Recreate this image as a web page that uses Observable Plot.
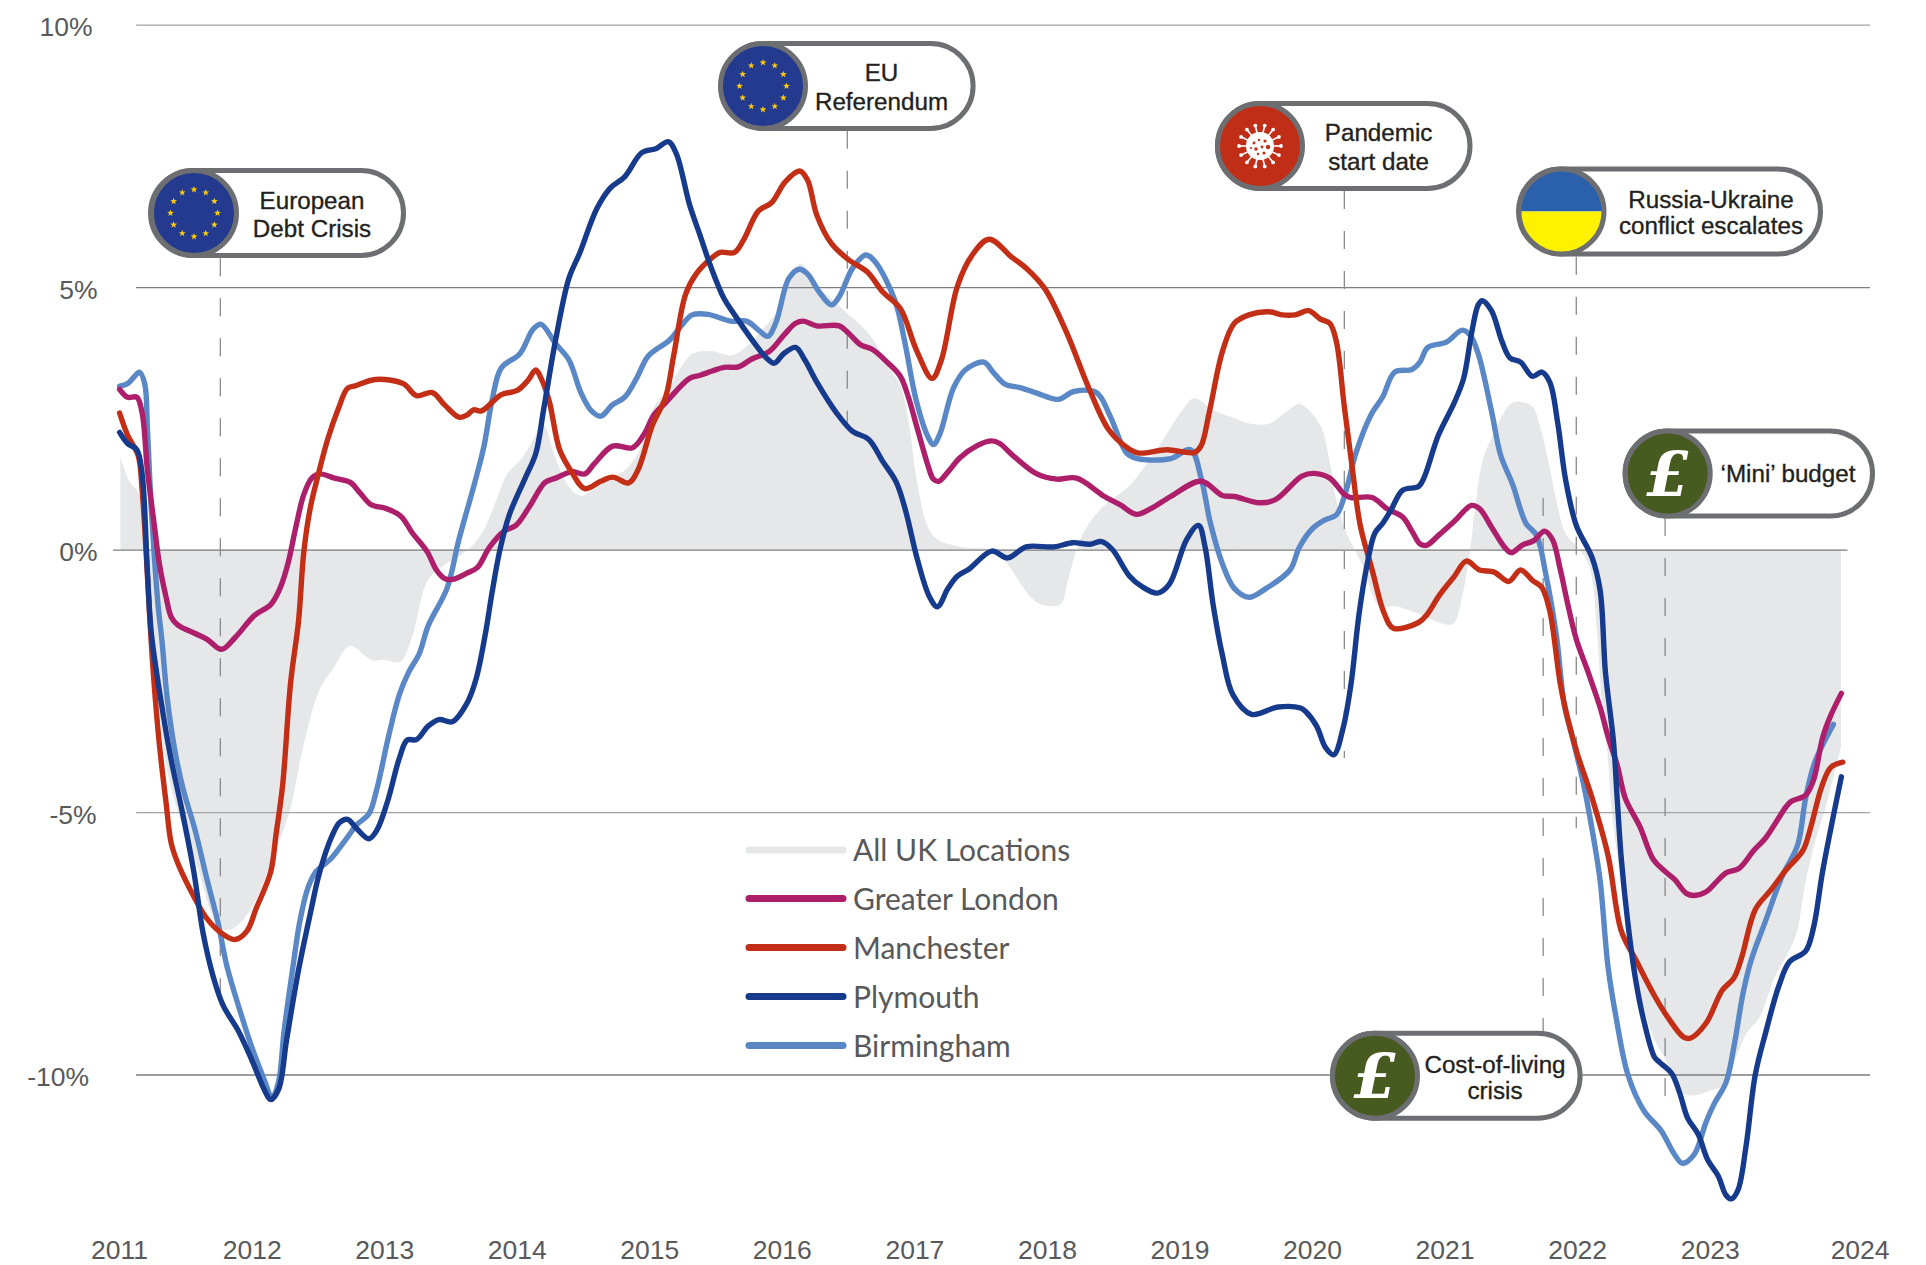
<!DOCTYPE html>
<html><head><meta charset="utf-8">
<script src="https://cdn.jsdelivr.net/npm/d3@7"></script>
<script src="https://cdn.jsdelivr.net/npm/@observablehq/plot@0.6"></script>
<style>html,body{margin:0;padding:0;background:#fff;overflow:hidden}svg{display:block}</style>
</head><body><div id="chart"></div>
<script>
const years=[2011,2012,2013,2014,2015,2016,2017,2018,2019,2020,2021,2022,2023,2024];
const yTicks=[10,5,0,-5,-10];
const allUK=[[2011.01,1.76],[2011.08,1.29],[2011.15,1.06],[2011.2,-0.1],[2011.25,-1.5],[2011.3,-3],[2011.37,-4.3],[2011.47,-5.2],[2011.59,-6.05],[2011.75,-7.18],[2011.84,-7.24],[2011.99,-6.87],[2012.17,-5.81],[2012.29,-4.95],[2012.38,-3.86],[2012.51,-2.68],[2012.62,-2.25],[2012.74,-1.84],[2012.91,-2.11],[2013,-2.1],[2013.12,-2.14],[2013.21,-1.67],[2013.33,-0.58],[2013.45,-0.3],[2013.62,-0.03],[2013.74,0.32],[2013.84,0.9],[2013.93,1.45],[2014.02,1.68],[2014.12,2.07],[2014.2,2.38],[2014.29,1.76],[2014.39,1.21],[2014.49,1.02],[2014.64,1.29],[2014.82,1.52],[2014.93,1.91],[2015.03,2.69],[2015.15,3.08],[2015.26,3.55],[2015.33,3.74],[2015.47,3.78],[2015.62,3.7],[2015.73,3.86],[2015.83,4.13],[2015.95,4.48],[2016.05,5.02],[2016.14,5.45],[2016.25,5.06],[2016.37,4.79],[2016.5,4.48],[2016.65,4.13],[2016.79,3.55],[2016.9,3.08],[2016.96,2.38],[2017.02,1.29],[2017.1,0.44],[2017.17,0.2],[2017.35,0.05],[2017.62,-0.03],[2017.71,-0.3],[2017.86,-0.85],[2017.95,-1.04],[2018.1,-1.04],[2018.16,-0.58],[2018.23,0.05],[2018.32,0.51],[2018.46,0.9],[2018.62,1.21],[2018.81,1.84],[2019.01,2.61],[2019.11,2.88],[2019.26,2.65],[2019.4,2.52],[2019.53,2.4],[2019.68,2.4],[2019.8,2.61],[2019.91,2.77],[2020.06,2.38],[2020.13,1.72],[2020.19,0.86],[2020.26,0.32],[2020.32,0.01],[2020.38,-0.3],[2020.51,-1.08],[2020.63,-1.08],[2020.8,-1.22],[2020.92,-1.35],[2021.01,-1.43],[2021.07,-1.41],[2021.13,-0.93],[2021.19,-0.07],[2021.23,0.79],[2021.29,1.72],[2021.38,2.26],[2021.47,2.69],[2021.53,2.81],[2021.66,2.73],[2021.72,2.34],[2021.78,1.72],[2021.85,0.86],[2021.91,0.32],[2022,0.05],[2022.09,-0.3],[2022.15,-1.55],[2022.18,-2.71],[2022.23,-3.9],[2022.26,-4.93],[2022.32,-6.16],[2022.41,-7.67],[2022.5,-8.7],[2022.58,-9.32],[2022.67,-9.73],[2022.77,-10.31],[2022.88,-10.4],[2023,-10.31],[2023.1,-10.21],[2023.19,-9.73],[2023.28,-9.21],[2023.37,-8.94],[2023.49,-8.15],[2023.6,-7.64],[2023.66,-7.26],[2023.72,-6.37],[2023.79,-5.62],[2023.88,-4.86],[2023.99,-3.77]];
const london=[[2011,3.06],[2011.06,2.91],[2011.13,2.91],[2011.17,2.61],[2011.21,1.52],[2011.26,0.51],[2011.3,-0.26],[2011.35,-0.89],[2011.39,-1.28],[2011.44,-1.43],[2011.57,-1.59],[2011.66,-1.7],[2011.77,-1.89],[2011.87,-1.67],[2012.02,-1.24],[2012.14,-1.04],[2012.21,-0.73],[2012.27,-0.26],[2012.33,0.44],[2012.39,1.06],[2012.45,1.37],[2012.51,1.45],[2012.62,1.37],[2012.74,1.29],[2012.81,1.1],[2012.9,0.86],[2013,0.8],[2013.12,0.65],[2013.21,0.32],[2013.32,-0.03],[2013.39,-0.38],[2013.45,-0.54],[2013.51,-0.56],[2013.62,-0.44],[2013.7,-0.33],[2013.79,0.05],[2013.9,0.36],[2013.99,0.47],[2014.09,0.82],[2014.21,1.29],[2014.29,1.37],[2014.41,1.49],[2014.51,1.45],[2014.58,1.64],[2014.72,1.98],[2014.87,1.95],[2014.96,2.22],[2015.03,2.57],[2015.12,2.81],[2015.3,3.27],[2015.38,3.33],[2015.47,3.41],[2015.56,3.48],[2015.67,3.49],[2015.77,3.64],[2015.9,3.78],[2016.01,4.09],[2016.1,4.32],[2016.16,4.36],[2016.26,4.27],[2016.43,4.27],[2016.5,4.13],[2016.59,3.91],[2016.68,3.82],[2016.79,3.58],[2016.89,3.31],[2016.95,2.92],[2017.02,2.3],[2017.1,1.6],[2017.14,1.35],[2017.18,1.31],[2017.25,1.49],[2017.34,1.76],[2017.47,1.99],[2017.58,2.08],[2017.64,2.03],[2017.74,1.8],[2017.92,1.45],[2018.07,1.35],[2018.22,1.37],[2018.43,1.02],[2018.55,0.86],[2018.67,0.68],[2018.78,0.79],[2018.93,1.02],[2019.16,1.31],[2019.32,1.04],[2019.41,1.02],[2019.6,0.9],[2019.72,0.96],[2019.92,1.41],[2020.01,1.46],[2020.13,1.37],[2020.24,1.06],[2020.29,1],[2020.45,1],[2020.56,0.79],[2020.68,0.63],[2020.75,0.36],[2020.81,0.12],[2020.86,0.09],[2020.95,0.28],[2021.07,0.55],[2021.2,0.85],[2021.26,0.79],[2021.35,0.44],[2021.45,0.05],[2021.5,-0.05],[2021.58,0.09],[2021.67,0.18],[2021.75,0.36],[2021.81,0.2],[2021.87,-0.38],[2021.93,-1.08],[2021.99,-1.7],[2022.08,-2.33],[2022.17,-3.0],[2022.23,-3.56],[2022.3,-4.11],[2022.36,-4.73],[2022.47,-5.27],[2022.57,-5.89],[2022.65,-6.1],[2022.73,-6.27],[2022.82,-6.54],[2022.88,-6.58],[2022.97,-6.51],[2023.04,-6.34],[2023.12,-6.15],[2023.22,-6.06],[2023.33,-5.72],[2023.42,-5.48],[2023.57,-4.9],[2023.61,-4.79],[2023.72,-4.67],[2023.78,-4.38],[2023.85,-3.56],[2023.91,-3.15],[2023.99,-2.73]];
const manchester=[[2011,2.61],[2011.06,2.19],[2011.14,1.8],[2011.17,1.14],[2011.2,-0.03],[2011.23,-1.4],[2011.26,-2.53],[2011.3,-3.7],[2011.35,-4.8],[2011.39,-5.59],[2011.44,-5.97],[2011.56,-6.6],[2011.65,-6.99],[2011.75,-7.26],[2011.87,-7.42],[2011.96,-7.26],[2012.03,-6.83],[2012.14,-6.13],[2012.18,-5.42],[2012.23,-4.48],[2012.29,-2.53],[2012.35,-1.35],[2012.39,-0.03],[2012.44,0.82],[2012.5,1.45],[2012.57,2.11],[2012.65,2.69],[2012.72,3.08],[2012.78,3.13],[2012.93,3.25],[2013.14,3.17],[2013.24,2.94],[2013.36,3],[2013.45,2.77],[2013.56,2.53],[2013.62,2.57],[2013.67,2.67],[2013.73,2.65],[2013.88,2.96],[2014,3.04],[2014.08,3.23],[2014.14,3.43],[2014.18,3.27],[2014.24,2.85],[2014.32,1.91],[2014.41,1.49],[2014.51,1.17],[2014.63,1.31],[2014.72,1.39],[2014.84,1.28],[2014.91,1.52],[2015.02,2.38],[2015.12,2.92],[2015.18,3.7],[2015.27,4.87],[2015.35,5.26],[2015.47,5.57],[2015.53,5.67],[2015.64,5.67],[2015.71,5.92],[2015.82,6.46],[2015.92,6.62],[2016.02,7.01],[2016.13,7.22],[2016.19,7.05],[2016.26,6.38],[2016.37,5.84],[2016.5,5.53],[2016.64,5.3],[2016.76,4.91],[2016.89,4.6],[2017.01,3.82],[2017.13,3.27],[2017.2,3.62],[2017.32,5.02],[2017.43,5.61],[2017.56,5.92],[2017.73,5.58],[2017.84,5.37],[2017.98,4.98],[2018.14,4.17],[2018.32,3.04],[2018.46,2.3],[2018.58,1.99],[2018.68,1.85],[2018.9,1.91],[2019.11,1.86],[2019.16,1.99],[2019.22,2.61],[2019.32,3.78],[2019.41,4.32],[2019.52,4.48],[2019.67,4.54],[2019.77,4.48],[2019.87,4.48],[2019.97,4.56],[2020.06,4.4],[2020.13,4.32],[2020.18,3.97],[2020.24,2.73],[2020.3,1.56],[2020.36,0.47],[2020.45,-0.38],[2020.54,-1.2],[2020.61,-1.49],[2020.8,-1.38],[2020.86,-1.24],[2020.96,-0.85],[2021.07,-0.5],[2021.16,-0.21],[2021.26,-0.38],[2021.37,-0.42],[2021.48,-0.6],[2021.57,-0.38],[2021.66,-0.58],[2021.73,-0.71],[2021.79,-1.16],[2021.87,-2.56],[2021.93,-3.26],[2022,-3.9],[2022.11,-4.73],[2022.23,-5.82],[2022.33,-7.26],[2022.44,-7.81],[2022.58,-8.49],[2022.68,-8.9],[2022.8,-9.28],[2022.85,-9.3],[2022.97,-9.01],[2023.09,-8.39],[2023.18,-8.15],[2023.24,-7.74],[2023.34,-6.85],[2023.46,-6.47],[2023.57,-6.1],[2023.7,-5.72],[2023.76,-5.27],[2023.84,-4.52],[2023.91,-4.14],[2024,-4.04]];
const plymouth=[[2011,2.24],[2011.06,2.03],[2011.13,1.91],[2011.17,1.45],[2011.21,-0.42],[2011.24,-1.6],[2011.33,-3.15],[2011.39,-4.01],[2011.47,-4.95],[2011.56,-6.13],[2011.63,-7.3],[2011.71,-8.16],[2011.78,-8.67],[2011.9,-9.18],[2012,-9.73],[2012.09,-10.27],[2012.14,-10.47],[2012.2,-10.27],[2012.26,-9.33],[2012.35,-8],[2012.44,-6.91],[2012.51,-6.13],[2012.6,-5.46],[2012.66,-5.19],[2012.72,-5.13],[2012.79,-5.31],[2012.88,-5.5],[2012.94,-5.34],[2013.02,-4.8],[2013.11,-3.97],[2013.17,-3.62],[2013.24,-3.61],[2013.33,-3.35],[2013.41,-3.23],[2013.51,-3.27],[2013.62,-2.92],[2013.69,-2.45],[2013.76,-1.59],[2013.81,-0.81],[2013.87,0.01],[2013.94,0.67],[2014.06,1.37],[2014.14,1.84],[2014.2,2.69],[2014.29,4.01],[2014.39,5.18],[2014.47,5.65],[2014.6,6.5],[2014.7,6.89],[2014.81,7.11],[2014.94,7.57],[2015.05,7.65],[2015.14,7.78],[2015.2,7.55],[2015.3,6.58],[2015.38,5.99],[2015.46,5.4],[2015.56,4.79],[2015.64,4.48],[2015.77,4.01],[2015.88,3.66],[2015.94,3.56],[2016.01,3.74],[2016.1,3.86],[2016.17,3.62],[2016.26,3.2],[2016.41,2.61],[2016.53,2.26],[2016.65,2.11],[2016.76,1.68],[2016.86,1.29],[2016.93,0.75],[2017.02,-0.19],[2017.11,-0.89],[2017.17,-1.08],[2017.25,-0.73],[2017.32,-0.5],[2017.41,-0.36],[2017.58,-0.02],[2017.7,-0.15],[2017.84,0.06],[2018.05,0.06],[2018.19,0.14],[2018.32,0.11],[2018.41,0.16],[2018.49,0.01],[2018.62,-0.5],[2018.71,-0.69],[2018.83,-0.82],[2018.92,-0.65],[2019.05,0.2],[2019.14,0.47],[2019.19,0.05],[2019.25,-1.04],[2019.32,-2],[2019.4,-2.76],[2019.54,-3.13],[2019.74,-2.99],[2019.91,-3.01],[2019.95,-3.08],[2020.03,-3.35],[2020.1,-3.77],[2020.16,-3.9],[2020.23,-3.4],[2020.29,-2.56],[2020.35,-1.24],[2020.41,-0.3],[2020.47,0.32],[2020.53,0.51],[2020.59,0.75],[2020.68,1.14],[2020.8,1.21],[2020.84,1.37],[2020.95,2.19],[2021.07,2.81],[2021.14,3.27],[2021.2,4.13],[2021.25,4.67],[2021.28,4.75],[2021.35,4.56],[2021.43,3.97],[2021.49,3.66],[2021.57,3.58],[2021.66,3.31],[2021.73,3.39],[2021.79,3.2],[2021.85,2.42],[2021.91,1.33],[2021.99,0.47],[2022.11,-0.15],[2022.17,-0.77],[2022.21,-2.33],[2022.27,-3.63],[2022.3,-4.79],[2022.33,-5.89],[2022.38,-7.12],[2022.44,-8.22],[2022.5,-8.97],[2022.58,-9.66],[2022.62,-9.76],[2022.71,-9.97],[2022.77,-10.34],[2022.83,-10.82],[2022.91,-11.13],[2022.98,-11.61],[2023.06,-11.92],[2023.12,-12.29],[2023.16,-12.36],[2023.21,-12.19],[2023.27,-11.37],[2023.34,-10],[2023.42,-9.18],[2023.52,-8.29],[2023.6,-7.84],[2023.72,-7.64],[2023.78,-7.19],[2023.85,-6.1],[2023.99,-4.32]];
const birmingham=[[2011,3.12],[2011.06,3.17],[2011.11,3.3],[2011.15,3.39],[2011.19,3.16],[2011.21,2.3],[2011.24,0.75],[2011.29,-1.04],[2011.32,-1.74],[2011.36,-2.84],[2011.42,-3.86],[2011.48,-4.56],[2011.57,-5.34],[2011.66,-6.28],[2011.74,-7.07],[2011.81,-7.93],[2011.91,-8.79],[2012,-9.49],[2012.09,-10.08],[2012.15,-10.43],[2012.2,-10.12],[2012.24,-9.18],[2012.3,-8.08],[2012.36,-7.07],[2012.42,-6.44],[2012.48,-6.13],[2012.59,-5.89],[2012.71,-5.5],[2012.79,-5.23],[2012.88,-5.03],[2012.94,-4.56],[2013.03,-3.54],[2013.11,-2.76],[2013.18,-2.33],[2013.26,-1.98],[2013.33,-1.43],[2013.47,-0.73],[2013.56,0.2],[2013.68,1.29],[2013.75,1.99],[2013.81,2.85],[2013.88,3.47],[2014.02,3.74],[2014.12,4.21],[2014.18,4.3],[2014.29,3.93],[2014.39,3.62],[2014.48,3],[2014.56,2.65],[2014.63,2.55],[2014.72,2.77],[2014.81,2.91],[2014.9,3.27],[2014.99,3.7],[2015.15,4],[2015.24,4.28],[2015.32,4.48],[2015.44,4.49],[2015.61,4.36],[2015.73,4.36],[2015.83,4.17],[2015.89,4.07],[2015.95,4.32],[2016.05,5.18],[2016.13,5.35],[2016.19,5.26],[2016.28,4.91],[2016.37,4.67],[2016.43,4.83],[2016.53,5.37],[2016.63,5.62],[2016.7,5.49],[2016.85,4.75],[2016.92,4.01],[2017.01,2.85],[2017.1,2.15],[2017.14,2.01],[2017.19,2.22],[2017.29,3.08],[2017.38,3.43],[2017.52,3.58],[2017.59,3.39],[2017.68,3.16],[2017.8,3.09],[2017.92,2.99],[2018.08,2.87],[2018.2,3.02],[2018.37,3],[2018.47,2.57],[2018.6,1.84],[2018.68,1.74],[2018.93,1.74],[2019.08,1.91],[2019.16,1.37],[2019.23,0.51],[2019.32,-0.26],[2019.41,-0.73],[2019.52,-0.9],[2019.65,-0.73],[2019.83,-0.38],[2019.9,0.05],[2020,0.41],[2020.09,0.57],[2020.18,0.67],[2020.24,1.02],[2020.33,1.87],[2020.44,2.57],[2020.53,2.92],[2020.62,3.39],[2020.75,3.44],[2020.81,3.58],[2020.87,3.86],[2021.01,3.96],[2021.13,4.19],[2021.19,4.09],[2021.25,3.74],[2021.35,2.65],[2021.42,1.8],[2021.51,1.25],[2021.61,0.51],[2021.69,0.28],[2021.76,-0.46],[2021.84,-1.63],[2021.9,-2.95],[2021.96,-3.56],[2022.05,-4.52],[2022.12,-5.48],[2022.17,-6.3],[2022.23,-7.95],[2022.29,-8.9],[2022.38,-10],[2022.5,-10.68],[2022.63,-11.06],[2022.73,-11.51],[2022.79,-11.68],[2022.88,-11.51],[2022.97,-10.89],[2023.03,-10.55],[2023.12,-10.14],[2023.18,-9.45],[2023.25,-8.42],[2023.31,-7.81],[2023.42,-7.05],[2023.54,-6.23],[2023.66,-5.62],[2023.72,-4.73],[2023.79,-4.04],[2023.93,-3.32]];

const colors={uk:"#e6e7e8",london:"#ad1f6b",manchester:"#c32e17",plymouth:"#173b8c",birmingham:"#5a88c6"};
const legendNames=["All UK Locations","Greater London","Manchester","Plymouth","Birmingham"];
const legendColors=[colors.uk,colors.london,colors.manchester,colors.plymouth,colors.birmingham];
const eventDates=[{t:2011.76,top:5.55,bottom:-8.47},{t:2016.49,top:7.98,bottom:2.22},{t:2020.24,top:6.83,bottom:-3.97},{t:2021.99,top:5.58,bottom:-5.31},{t:2022.66,top:0.6,bottom:-10.58},{t:2021.74,top:0.98,bottom:-9.5}];
const pills=[
 {l:148,r:406,t:168,icon:"eu",cx:194,tx:312,lines:["European","Debt Crisis"],ty:[200,228.6]},
 {l:718.6,r:975.6,t:41,icon:"eu",cx:763,tx:881.5,lines:["EU","Referendum"],ty:[72.6,101]},
 {l:1215,r:1472.5,t:101,icon:"virus",cx:1260,tx:1378.6,lines:["Pandemic","start date"],ty:[132.7,161]},
 {l:1516,r:1823,t:166.5,icon:"ua",cx:1561.5,tx:1711,lines:["Russia-Ukraine","conflict escalates"],ty:[199,225.7]},
 {l:1622.6,r:1875,t:428.6,icon:"pound",cx:1667.7,tx:1788,lines:["‘Mini’ budget"],ty:[473.5]},
 {l:1330,r:1582.6,t:1030.8,icon:"pound",cx:1375,tx:1495,lines:["Cost-of-living","crisis"],ty:[1064,1090]}
];
const NS="http://www.w3.org/2000/svg";
function el(p,n,a,t){const e=document.createElementNS(NS,n);for(const k in a)e.setAttribute(k,a[k]);if(t!=null)e.textContent=t;p.appendChild(e);return e;}
function star(cx,cy,r){let s="";for(let i=0;i<10;i++){const R=i%2?r*0.4:r,a=-Math.PI/2+i*Math.PI/5;s+=(i?"L":"M")+(cx+R*Math.cos(a)).toFixed(2)+" "+(cy+R*Math.sin(a)).toFixed(2);}return s+"Z";}
function pillMark(){
 const g=document.createElementNS(NS,"g");
 pills.forEach((p,i)=>{
  const h=90,cy=p.t+h/2;
  el(g,"rect",{x:p.l+2.5,y:p.t+2.5,width:p.r-p.l-5,height:h-5,rx:42.5,fill:"#fff",stroke:"#6d6e71","stroke-width":5});
  const base={eu:"#233a8f",virus:"#c12e17",ua:"#2a60ac",pound:"#475a20"}[p.icon];
  if(p.icon==="ua"){
   const cid="ua"+i,cp=el(g,"clipPath",{id:cid});el(cp,"circle",{cx:p.cx,cy,r:42.5});
   const gg=el(g,"g",{"clip-path":`url(#${cid})`});
   el(gg,"rect",{x:p.cx-45,y:cy-45,width:90,height:45,fill:"#2a60ac"});
   el(gg,"rect",{x:p.cx-45,y:cy,width:90,height:45,fill:"#fff200"});
   el(g,"circle",{cx:p.cx,cy,r:42.5,fill:"none",stroke:"#6d6e71","stroke-width":5});
  } else el(g,"circle",{cx:p.cx,cy,r:42.5,fill:base,stroke:"#6d6e71","stroke-width":5});
  if(p.icon==="eu"){for(let k=0;k<12;k++){const a=k*Math.PI/6;el(g,"path",{d:star(p.cx+23.5*Math.cos(a),cy+23.5*Math.sin(a),3.6),fill:"#ffcc00"});}}
  if(p.icon==="virus"){
   for(let k=0;k<14;k++){const a=k*2*Math.PI/14,c=Math.cos(a),s=Math.sin(a);
    el(g,"line",{x1:p.cx+10*c,y1:cy+10*s,x2:p.cx+20*c,y2:cy+20*s,stroke:"#fff","stroke-width":1.6});
    el(g,"circle",{cx:p.cx+21*c,cy:cy+21*s,r:1.9,fill:"#fff"});}
   el(g,"circle",{cx:p.cx,cy,r:14,fill:"#fff"});
   [[-6,-3,1.4],[-1,-6,1.2],[5,-5,1.6],[8,1,2.2],[2,1,1.4],[-4,3,1.8],[-9,2,1.1],[4,7,1.6],[-2,8,1.2]].forEach(d=>el(g,"circle",{cx:p.cx+d[0],cy:cy+d[1],r:d[2],fill:base}));
  }
  if(p.icon==="pound"){el(g,"text",{x:p.cx,y:cy+1,"text-anchor":"middle","dominant-baseline":"central","font-family":"'DejaVu Serif','Liberation Serif',serif","font-weight":"bold","font-style":"italic","font-size":62,fill:"#fff"},"£");}
  p.lines.forEach((t,j)=>el(g,"text",{x:p.tx,y:p.ty[j],"text-anchor":"middle","dominant-baseline":"central","font-family":"'Liberation Sans',Arial,sans-serif","font-size":24.2,fill:"#231f20",stroke:"#231f20","stroke-width":0.35},t));
 });
 return g;
}
function legendMark(){
 const g=document.createElementNS(NS,"g");
 const ys=[850,898.5,947.5,996.5,1045.5];
 legendNames.forEach((n,i)=>{
  el(g,"line",{x1:749,x2:843,y1:ys[i],y2:ys[i],stroke:legendColors[i],"stroke-width":7,"stroke-linecap":"round"});
  el(g,"text",{x:853,y:ys[i]-1,"text-anchor":"start","dominant-baseline":"central","font-family":"Lato,'Open Sans',sans-serif","font-size":30,fill:"#58595b"},n);
 });
 return g;
}
const X=d=>d[0],Y=d=>d[1];
const lineOpts=(c)=>({x:X,y:Y,stroke:c,strokeWidth:5.4,curve:"catmull-rom",strokeLinecap:"round",strokeLinejoin:"round"});
const tickText={fontFamily:"'Liberation Sans',Arial,sans-serif",fontSize:26.5,fill:"#58595b"};
const yLabelDx=[-27,-22,-22,-23,-30.5];
const chart=Plot.plot({
 width:1926,height:1265,margin:0,
 style:{background:"#fff",maxWidth:"none"},
 x:{domain:[2011,2024],range:[119.1,1842.2],axis:null},
 y:{domain:[10,-10],range:[24.6,1074.5],axis:null},
 marks:[
  Plot.areaY(allUK,{x:X,y:Y,y1:0,y2:Y,fill:colors.uk,curve:"catmull-rom"}),
  Plot.ruleY(yTicks.filter(d=>d!==0),{x1:2011.128,x2:2024.21,y:d=>d,stroke:d=>d===10||d===-5?"#a3a3a3":"#7d7d7d",strokeWidth:1.3}),
  Plot.ruleY([0],{x1:2010.954,x2:2024.04,stroke:"#7d7d7d",strokeWidth:1.3}),
  Plot.ruleX(eventDates,{x:"t",y1:"top",y2:"bottom",stroke:"#8a8a8a",strokeWidth:1.3,strokeDasharray:"18 22"}),
  Plot.line(birmingham,lineOpts(colors.birmingham)),
  Plot.line(london,lineOpts(colors.london)),
  Plot.line(manchester,lineOpts(colors.manchester)),
  Plot.line(plymouth,lineOpts(colors.plymouth)),
  pillMark,legendMark,
  Plot.text(years.slice(0,-1),{x:d=>d,frameAnchor:"bottom",dy:-14.5,lineAnchor:"middle",text:d=>String(d),...tickText}),
  Plot.text([2024],{x:d=>d,frameAnchor:"bottom",dy:-14.5,dx:17.4,lineAnchor:"middle",text:d=>String(d),...tickText}),
  ...yTicks.map((v,i)=>Plot.text([v],{x:2011,y:d=>d,dx:yLabelDx[i],dy:2.5,textAnchor:"end",lineAnchor:"middle",text:d=>d+"%",...tickText}))
 ]
});
document.getElementById("chart").appendChild(chart);
</script>
</body></html>
